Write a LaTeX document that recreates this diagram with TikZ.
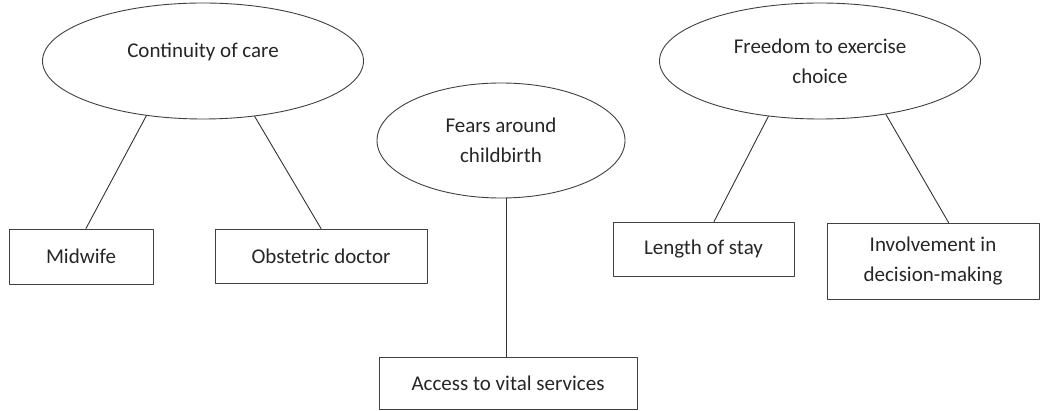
\documentclass[tikz,border=0pt]{standalone}
\usepackage{fontspec}
\setmainfont{Carlito}
\usetikzlibrary{shapes.geometric}

\begin{document}
\begin{tikzpicture}[x=1pt,y=-1pt,line cap=round,line join=round,
		theme/.style={draw=black!75,line width=0.9pt,ellipse,align=center,inner sep=0pt,text=black!85,font=\fontsize{21}{30}\selectfont},
		item/.style={draw=black!75,line width=0.9pt,rectangle,align=center,inner sep=0pt,text=black!85,font=\fontsize{21}{30}\selectfont},
		link/.style={draw=black!80,line width=0.9pt}]
				\useasboundingbox (0,0) rectangle (1048,411);
				% themes
				\node [theme,minimum width=321,minimum height=116,text depth=22pt] (care) at (203,61) {Continuity of care};
				\node [theme,minimum width=248,minimum height=115] (fears) at (501,140.5) {Fears around\\childbirth};
				\node [theme,minimum width=321,minimum height=116] (free) at (820,61) {Freedom to exercise\\choice};
				% sub-themes
				\node [item,minimum width=144,minimum height=55] (midwife) at (81,256.5) {Midwife};
				\node [item,minimum width=212,minimum height=54] (doctor) at (321,256) {Obstetric doctor};
				\node [item,minimum width=258,minimum height=52] (access) at (508,383) {Access to vital services};
				\node [item,minimum width=181,minimum height=54] (stay) at (703.5,249) {Length of stay};
				\node [item,minimum width=212,minimum height=76] (involve) at (933,261) {Involvement in\\decision-making};
				% links
				\draw [link] (care.224)-- (midwife.80);
				\draw [link] (care.313)-- (doctor.north);
				\draw [link] (fears.275)-- (access.north -| fears.275);
				\draw [link] (free.227)-- (stay.69);
				\draw [link] (free.321)-- (involve.68);
\end{tikzpicture}
\end{document}
